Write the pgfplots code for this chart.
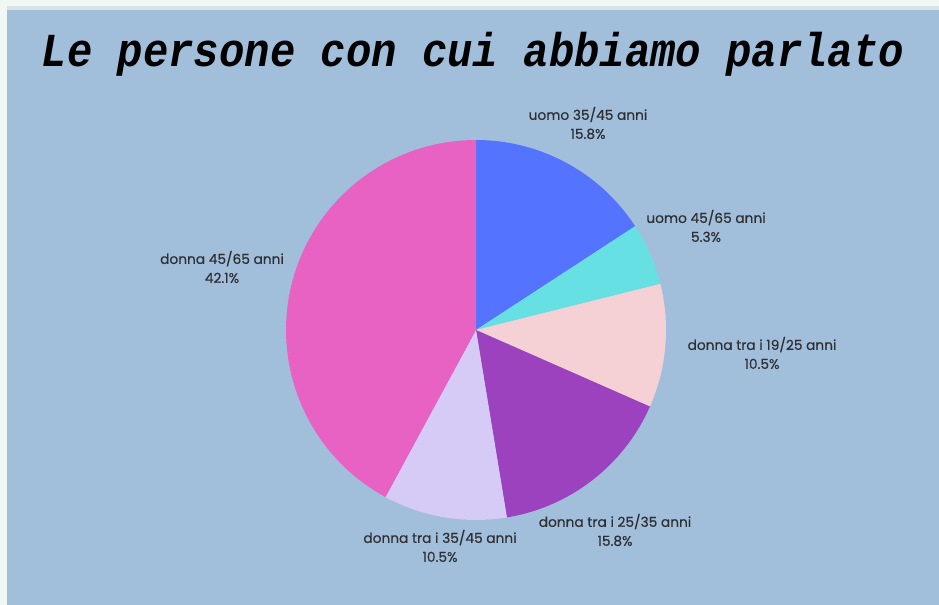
\documentclass[border=0pt]{standalone}
\usepackage{pgfplots}
\pgfplotsset{compat=1.18}
\usepackage{fontspec}
\setmainfont{Poppins}
\newfontfamily\lblfont{Poppins}[FakeBold=0.4]
\newfontfamily\titlefont{Liberation Mono}

\definecolor{bgmint}{HTML}{EFF8F2}
\definecolor{bgline}{HTML}{DCE1E4}
\definecolor{bgblue}{HTML}{A1BFDB}
\definecolor{cA}{HTML}{5473FF}
\definecolor{cB}{HTML}{67E0E3}
\definecolor{cC}{HTML}{F5D1D6}
\definecolor{cD}{HTML}{9C42BF}
\definecolor{cE}{HTML}{D6CBF6}
\definecolor{cF}{HTML}{E862C4}
\definecolor{txt}{HTML}{2E2E33}

% percentuali (clockwise from 12 o'clock)
\def\vA{15.8}\def\vB{5.3}\def\vC{10.5}\def\vD{15.8}\def\vE{10.5}\def\vF{42.1}
\pgfmathsetmacro\aA{90-3.6*\vA}
\pgfmathsetmacro\aB{\aA-3.6*\vB}
\pgfmathsetmacro\aC{\aB-3.6*\vC}
\pgfmathsetmacro\aD{\aC-3.6*\vD}
\pgfmathsetmacro\aE{\aD-3.6*\vE}
\pgfmathsetmacro\aF{\aE-3.6*\vF}

\tikzset{lbl/.style={align=center, text=txt,
  font=\lblfont\fontsize{10.3}{14.2}\selectfont, inner sep=0pt}}

\begin{document}
\begin{tikzpicture}
\begin{axis}[
  hide axis, scale only axis,
  x=0.75pt, y=0.75pt,
  xmin=0, xmax=939, ymin=0, ymax=605,
  clip=false,
  samples=80, draw=none
]
  % sfondo
  \fill[bgmint] (axis cs:0,0) rectangle (axis cs:939,605);
  \fill[bgline] (axis cs:7,0) rectangle (axis cs:939,599);
  \fill[bgblue] (axis cs:7,0) rectangle (axis cs:939,595);

  % spicchi
  \addplot[fill=cA, draw=none, domain=\aA:90] ({476+190*cos(x)},{275+190*sin(x)}) -- (axis cs:476,275) -- cycle;
  \addplot[fill=cB, draw=none, domain=\aB:\aA] ({476+190*cos(x)},{275+190*sin(x)}) -- (axis cs:476,275) -- cycle;
  \addplot[fill=cC, draw=none, domain=\aC:\aB] ({476+190*cos(x)},{275+190*sin(x)}) -- (axis cs:476,275) -- cycle;
  \addplot[fill=cD, draw=none, domain=\aD:\aC] ({476+190*cos(x)},{275+190*sin(x)}) -- (axis cs:476,275) -- cycle;
  \addplot[fill=cE, draw=none, domain=\aE:\aD] ({476+190*cos(x)},{275+190*sin(x)}) -- (axis cs:476,275) -- cycle;
  \addplot[fill=cF, draw=none, domain=\aF:\aE] ({476+190*cos(x)},{275+190*sin(x)}) -- (axis cs:476,275) -- cycle;

  % etichette
  \node[lbl] at (axis cs:588,482) {uomo 35/45 anni\\\vA\%};
  \node[lbl] at (axis cs:706,379) {uomo 45/65 anni\\\vB\%};
  \node[lbl] at (axis cs:762,252) {donna tra i 19/25 anni\\\vC\%};
  \node[lbl] at (axis cs:615,75) {donna tra i 25/35 anni\\\vD\%};
  \node[lbl] at (axis cs:440,59) {donna tra i 35/45 anni\\\vE\%};
  \node[lbl] at (axis cs:222,338) {donna 45/65 anni\\\vF\%};

  % titolo
  \node[anchor=base, inner sep=0pt] at (axis cs:473,538)
    {\scalebox{1}[1.12]{\titlefont\bfseries\itshape\fontsize{31.7}{36}\selectfont Le persone con cui abbiamo parlato}};
\end{axis}
\end{tikzpicture}
\end{document}
